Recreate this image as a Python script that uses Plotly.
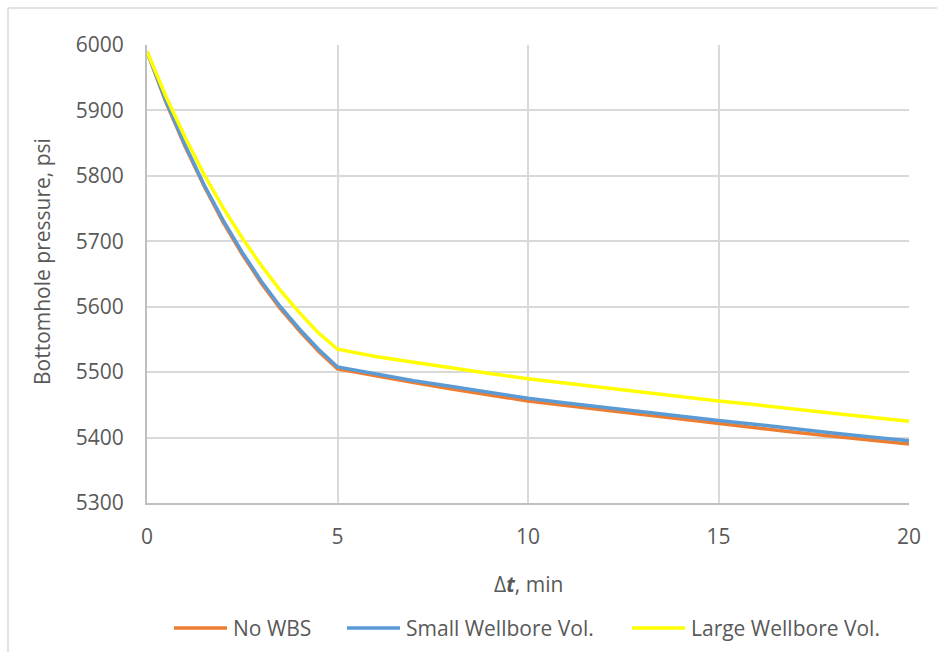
import plotly.graph_objects as go

# Shut-in time, minutes
time_min = [0, 0.5, 1, 1.5, 2, 2.5, 3, 3.5, 4, 4.5, 5,
            6, 7, 8, 9, 10, 11, 12, 13, 14, 15, 16, 17, 18, 19, 20]

# Bottomhole pressure, psi
no_wbs = [5990, 5912, 5845, 5784, 5729, 5680, 5636, 5597, 5563, 5532, 5505,
          5494, 5484, 5474, 5465, 5456, 5449, 5442, 5435, 5428, 5422,
          5415, 5408, 5402, 5396, 5390]
small_wellbore = [5990, 5914, 5847, 5786, 5732, 5683, 5639, 5600, 5566, 5535, 5508,
                  5497, 5487, 5478, 5469, 5460, 5453, 5446, 5439, 5432, 5426,
                  5420, 5413, 5407, 5401, 5395]
large_wellbore = [5990, 5921, 5859, 5802, 5751, 5705, 5663, 5625, 5591, 5560, 5535,
                  5524, 5515, 5506, 5498, 5490, 5483, 5476, 5469, 5462, 5456,
                  5450, 5443, 5437, 5431, 5425]

series_names = ["No WBS", "Small Wellbore Vol.", "Large Wellbore Vol."]
series_values = [no_wbs, small_wellbore, large_wellbore]
series_colors = ["#ED7D31", "#5B9BD5", "#FFFF00"]

FONT = "Open Sans"
TEXT = "#595959"
GRID = "#d9d9d9"
AXIS = "#bfbfbf"

# plot-area geometry in pixels, used to place the legend and frame in paper units
W, H = 937, 652
L, R, T, B = 147, 28, 45, 149
PW, PH = W - L - R, H - T - B


def px_x(x):
    return (x - L) / PW


def px_y(y):
    return 1 - (y - T) / PH


fig = go.Figure()
for name, values, color in zip(series_names, series_values, series_colors):
    fig.add_trace(go.Scatter(
        x=time_min, y=values, name=name, mode="lines",
        line=dict(color=color, width=3.5), showlegend=False,
    ))

# legend: short line sample followed by its label
legend_line_starts = [174, 347, 632]
legend_y = 628
shapes = []
annotations = []
for name, color, x0 in zip(series_names, series_colors, legend_line_starts):
    shapes.append(dict(type="line", xref="paper", yref="paper",
                       x0=px_x(x0), x1=px_x(x0 + 53),
                       y0=px_y(legend_y), y1=px_y(legend_y),
                       line=dict(color=color, width=3.5)))
    annotations.append(dict(text=name, xref="paper", yref="paper",
                            x=px_x(x0 + 57), y=px_y(legend_y),
                            xanchor="left", yanchor="middle", showarrow=False,
                            font=dict(family=FONT, size=21, color=TEXT)))

# chart frame (top and left edges)
shapes += [
    dict(type="line", xref="paper", yref="paper",
         x0=px_x(8), x1=px_x(W + 5), y0=px_y(8), y1=px_y(8),
         line=dict(color=GRID, width=1.5)),
    dict(type="line", xref="paper", yref="paper",
         x0=px_x(8), x1=px_x(8), y0=px_y(8), y1=px_y(H + 5),
         line=dict(color=GRID, width=1.5)),
]

annotations += [
    dict(text="Δ<b><i>t</i></b>, min", xref="paper", yref="paper",
         x=0.5, y=px_y(584), xanchor="center", yanchor="middle",
         showarrow=False, font=dict(family=FONT, size=21, color=TEXT)),
    dict(text="Bottomhole pressure, psi", xref="paper", yref="paper",
         x=px_x(42), y=px_y(262), xanchor="center", yanchor="middle",
         textangle=-90, showarrow=False,
         font=dict(family=FONT, size=21, color=TEXT)),
]

fig.update_layout(
    width=W, height=H,
    margin=dict(l=L, r=R, t=T, b=B, autoexpand=False),
    paper_bgcolor="white", plot_bgcolor="white",
    font=dict(family=FONT, size=21, color=TEXT),
    showlegend=False,
    xaxis=dict(
        range=[0, 20], tickvals=[0, 5, 10, 15, 20],
        showgrid=True, gridcolor=GRID, gridwidth=1.5,
        showline=True, linecolor=AXIS, linewidth=2,
        zeroline=False, ticks="", ticklabelstandoff=14,
        tickfont=dict(family=FONT, size=21, color=TEXT),
    ),
    yaxis=dict(
        range=[5300, 6000], dtick=100,
        showgrid=True, gridcolor=GRID, gridwidth=1.5,
        showline=True, linecolor=AXIS, linewidth=2,
        zeroline=False, ticks="", ticklabelstandoff=17,
        tickfont=dict(family=FONT, size=21, color=TEXT),
    ),
    annotations=annotations,
    shapes=shapes,
)

fig.write_html("out.html")
